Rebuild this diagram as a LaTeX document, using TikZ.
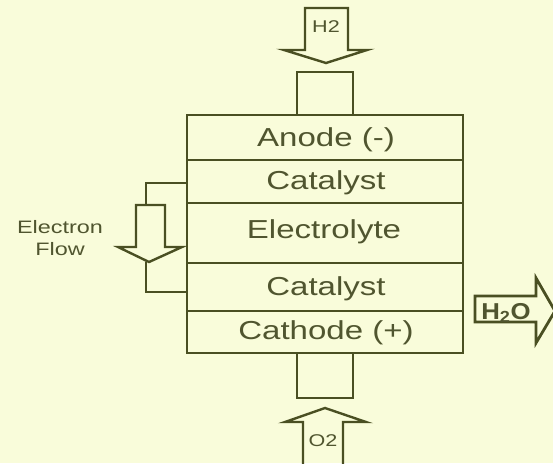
\documentclass[tikz,border=0pt]{standalone}
\usepackage{fontspec}
\setmainfont{Liberation Sans}
\definecolor{bg}{HTML}{F9FCDA}
\definecolor{ln}{HTML}{4A4F22}
\definecolor{tx}{HTML}{50552F}
\begin{document}
\begin{tikzpicture}[x=1pt,y=-1pt,
  line/.style={draw=ln,line width=2.4pt,line join=miter},
  lbl/.style={text=tx,inner sep=0pt,anchor=base},
  big/.style={lbl,font=\fontsize{26}{30}\selectfont,xscale=1.27},
  small/.style={lbl,font=\fontsize{17}{20}\selectfont,xscale=1.27}]
\fill[bg] (0,0) rectangle (553,463);
\useasboundingbox (0,0) rectangle (553,463);
% layers
\draw[line] (187,115) rectangle (463,353);
\draw[line] (187,160) -- (463,160);
\draw[line] (187,203) -- (463,203);
\draw[line] (187,263) -- (463,263);
\draw[line] (187,311) -- (463,311);
\node[big] (anode) at (326,146) {Anode (-)};
\node[big] (cat1) at (326,189) {Catalyst};
\node[big] (elec) at (324,238) {Electrolyte};
\node[big] (cat2) at (326,295) {Catalyst};
\node[big] (cath) at (326,339) {Cathode (+)};
% stubs
\draw[line] (297,115) -- (297,72) -- (353,72) -- (353,115);
\draw[line] (297,353) -- (297,398) -- (353,398) -- (353,353);
% H2 arrow
\draw[line] (305,8) -- (348,8) -- (348,50) -- (367,50) -- (326,63) -- (284,50) -- (305,50) -- cycle;
\node[small] (h2) at (326,32) {H2};
% O2 arrow
\draw[line] (303,466) -- (303,422) -- (285,422) -- (325,408) -- (366,422) -- (343,422) -- (343,466);
\node[small] (o2) at (323,446) {O2};
% electron flow
\draw[line] (187,183) -- (146,183) -- (146,205);
\draw[line] (136,205) -- (165,205) -- (165,247) -- (182,247) -- (149,262) -- (118,247) -- (136,247) -- cycle;
\draw[line] (146,262) -- (146,292) -- (187,292);
\node[lbl,font=\fontsize{18}{20}\selectfont,xscale=1.3] (ef1) at (60,233) {Electron};
\node[lbl,font=\fontsize{18}{20}\selectfont,xscale=1.3] (ef2) at (60,255) {Flow};
% H2O arrow
\draw[line,line width=2.8pt] (475,296) -- (536,296) -- (536,278) -- (555,311) -- (536,343) -- (536,322) -- (475,322) -- cycle;
\node[lbl,font=\bfseries\fontsize{23}{26}\selectfont,xscale=1.12] (h2o) at (506,319) {H\textsubscript{2}O};
\end{tikzpicture}
\end{document}
